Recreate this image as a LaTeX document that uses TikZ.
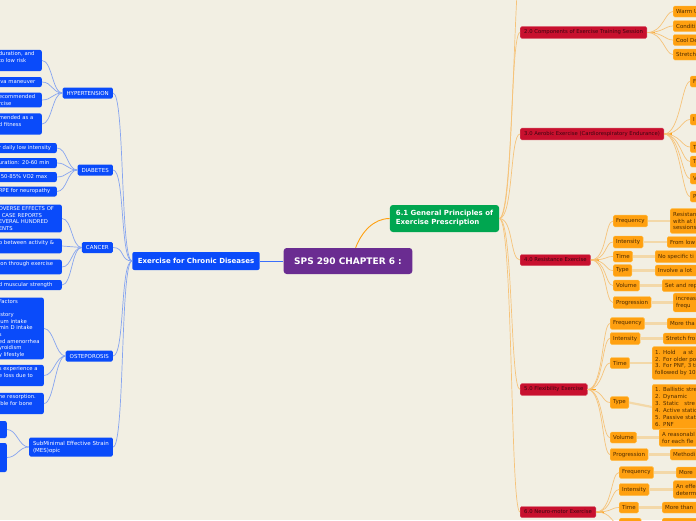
\documentclass[tikz,border=0pt]{standalone}
\usepackage{fontspec}
\setmainfont{DejaVu Sans}
\usepackage{tikz}

\definecolor{paper}{HTML}{F2EFE3}
\definecolor{mapblue}{HTML}{0A4BFA}
\definecolor{mappurple}{HTML}{6A2C91}
\definecolor{mapgreen}{HTML}{00A650}
\definecolor{mapred}{HTML}{C8102E}
\definecolor{maporange}{HTML}{FFA010}
\definecolor{orangeedge}{HTML}{FFC04D}
\definecolor{redtext}{HTML}{3A0610}
\definecolor{browntext}{HTML}{4D2B00}
\definecolor{blueline}{HTML}{86A4F0}
\definecolor{orangeline}{HTML}{F6C37A}
\definecolor{valueline}{HTML}{F3D8A8}

\tikzset{
    rootbox/.style={fill=mappurple, text=white, rounded corners=3pt,
        font=\fontsize{9}{11}\selectfont\bfseries, inner xsep=10.5pt, minimum height=26pt},
    chronicbox/.style={fill=mapblue, text=white, rounded corners=2pt,
        font=\fontsize{7}{9}\selectfont\bfseries, inner xsep=5.5pt, minimum height=18pt},
    greenbox/.style={fill=mapgreen, text=white, rounded corners=3pt, align=left,
        font=\fontsize{7}{9}\selectfont\bfseries, inner xsep=6pt, minimum height=27pt},
    branch/.style={fill=mapblue, text=white, rounded corners=1.5pt, anchor=east, align=left,
        font=\fontsize{5.5}{7}\selectfont, inner xsep=4pt, minimum height=11pt},
    blueleaf/.style={fill=mapblue, text=white, rounded corners=2pt, anchor=east, align=left,
        text width=#1, font=\fontsize{5.3}{6.6}\selectfont, inner xsep=2.5pt, inner ysep=2pt,
        minimum height=10pt},
    sub/.style={fill=mapred, draw=mapred!75!white, text=redtext, rounded corners=1.5pt,
        anchor=west, font=\fontsize{5.3}{6.6}\selectfont, inner xsep=4pt, minimum height=11pt},
    leaf/.style={fill=maporange, draw=orangeedge, text=browntext, rounded corners=1.5pt,
        anchor=west, font=\fontsize{5.5}{6.9}\selectfont, inner xsep=3pt, minimum height=11pt},
    val/.style={leaf, text width=70pt, align=left},
    bline/.style={draw=blueline, line width=0.7pt},
    rootline/.style={draw=mapblue!80, line width=0.9pt},
    greenline/.style={draw=maporange, line width=0.9pt},
    oline/.style={draw=orangeline, line width=0.7pt},
    ostub/.style={draw=maporange, line width=1.4pt},
    valline/.style={draw=valueline, line width=2.2pt}
}

\begin{document}
\begin{tikzpicture}[x=1pt,y=-1pt]
\useasboundingbox (0,0) rectangle (696,520);
\fill[paper] (0,0) rectangle (696,520);
\clip (0,0) rectangle (696,520);

% Nodi centrali
\node[rootbox] (root) at (348,261) {SPS 290 CHAPTER 6 :};
\node[chronicbox] (chronic) at (196,261) {Exercise for Chronic Diseases};
\node[greenbox] (gp) at (444.5,218.5) {6.1 General Principles of\\Exercise Prescription};

% Rami a sinistra
\node[branch] (hyp) at (113,93) {HYPERTENSION};
\node[branch] (dia) at (113,170) {DIABETES};
\node[branch] (can) at (113,247.5) {CANCER};
\node[branch] (ost) at (113,356) {OSTEPOROSIS};
\node[branch] (mes) at (113,447) {SubMinimal Effective Strain\\(MES)opic};

\node[blueleaf=40.5pt] (h1) at (42,60.5) {duration, and\\to low risk\\\mbox{}};
\node[blueleaf=40.5pt] (h2) at (42,82) {lva maneuver};
\node[blueleaf=40.5pt] (h3) at (42,100) {ecommended\\rcise};
\node[blueleaf=40.5pt] (h4) at (42,124) {mended as a\\d fitness\\\mbox{}};

\node[blueleaf=55.5pt] (d1) at (57,148) {r daily low intensity};
\node[blueleaf=55.5pt] (d2) at (57,163) {uration: 20-60 min};
\node[blueleaf=55.5pt] (d3) at (57,177) {\hspace*{2pt}50-85\% VO2 max};
\node[blueleaf=55.5pt] (d4) at (57,191.5) {RPE for neuropathy};

\node[blueleaf=60.5pt] (k1) at (62,218.5) {DVERSE EFFECTS OF\\\hspace*{3pt}CASE REPORTS\\EVERAL HUNDRED\\ENTS};
\node[blueleaf=60.5pt] (k2) at (62,246) {p between activity \&\\\mbox{}};
\node[blueleaf=60.5pt] (k3) at (62,267) {ion through exercise\\\mbox{}};
\node[blueleaf=60.5pt] (k4) at (62,285) {d muscular strength};

\node[blueleaf=42.5pt] (o1) at (44,328.5) {Factors\\l\\istory\\ium intake\\min D intake\\s\\ed amenorrhea\\yroidism\\y lifestyle};
\node[blueleaf=42.5pt] (o2) at (44,375.5) {s experience a\\e loss due to\\\mbox{}};
\node[blueleaf=42.5pt] (o3) at (44,403.5) {ne resorption.\\ible for bone\\\mbox{}};

\node[blueleaf=5pt, minimum height=17pt] (m1) at (7,429.5) {};
\node[blueleaf=5pt, minimum height=29pt] (m2) at (7,457.5) {};

% Rami a destra
\coordinate (c10) at (520,-30);
\node[sub] (c20) at (520,32.5) {2.0 Components of Exercise Training Session};
\node[sub] (c30) at (520,134) {3.0 Aerobic Exercise (Cardiorespiratory Endurance)};
\node[sub] (c40) at (520,260) {4.0 Resistance Exercise};
\node[sub] (c50) at (520,389.5) {5.0 Flexibility Exercise};
\node[sub] (c60) at (520,512) {6.0 Neuro-motor Exercise};

\node[val] (w1) at (673,11.5) {Warm U};
\node[val] (w2) at (673,26) {Conditi};
\node[val] (w3) at (673,40) {Cool De};
\node[val] (w4) at (673,54.5) {Stretch};

\node[val] (a1) at (690,81.5) {F};
\node[val] (a2) at (690,119.5) {I};
\node[val] (a3) at (690,147) {T};
\node[val] (a4) at (690,161.5) {T};
\node[val] (a5) at (690,178.5) {V};
\node[val] (a6) at (690,196.5) {P};

\node[leaf] (r1) at (613,221) {Frequency};
\node[leaf] (r2) at (613,242) {Intensity};
\node[leaf] (r3) at (613,256.5) {Time};
\node[leaf] (r4) at (613,270.5) {Type};
\node[leaf] (r5) at (613,285.5) {Volume};
\node[leaf] (r6) at (613,302.5) {Progression};
\node[val] (vr1) at (670,221) {Resistan\\with at l\\sessions};
\node[val] (vr2) at (667,242) {From low};
\node[val] (vr3) at (655,256.5) {No specific ti};
\node[val] (vr4) at (655,270.5) {Involve a lot};
\node[val] (vr5) at (662,285.5) {Set and rep};
\node[val] (vr6) at (673,302.5) {increas\\frequ};

\node[leaf] (f1) at (610,323.5) {Frequency};
\node[leaf] (f2) at (610,338.5) {Intensity};
\node[leaf] (f3) at (610,363) {Time};
\node[leaf] (f4) at (610,402.5) {Type};
\node[leaf] (f5) at (610,437.5) {Volume};
\node[leaf] (f6) at (610,454.5) {Progression};
\node[val] (vf1) at (667,323.5) {More tha};
\node[val] (vf2) at (663,338.5) {Stretch fro};
\node[val] (vf3) at (652,363) {1. Hold\quad\ a st\\2. For older po\\3. For PNF, 3 ti\\followed by 10};
\node[val] (vf4) at (652,407) {1. Ballistic stre\\2. Dynamic\\3. Static\quad stre\\4. Active static\\5. Passive stati\\6. PNF};
\node[val] (vf5) at (659,437.5) {A reasonabl\\for each fle};
\node[val] (vf6) at (670,454.5) {Methodi};

\node[leaf] (n1) at (619,472.5) {Frequency};
\node[leaf] (n2) at (619,489.5) {Intensity};
\node[leaf] (n3) at (619,507.5) {Time};
\node[leaf, anchor=north west, minimum width=22pt] (n4) at (619,518) {};
\node[val] (vn1) at (676,472.5) {More};
\node[val] (vn2) at (673,489.5) {An effe\\determ};
\node[val] (vn3) at (662,507.5) {More than};
\node[val, anchor=north west] (vn4) at (662,518) {};

% Collegamenti a sinistra
\draw[rootline] (root.west) -- (chronic.east);
\foreach \b in {hyp,dia,can,ost,mes}
    \draw[bline] (chronic.west) .. controls +(-12,0) and +(12,0) .. (\b.east);
\foreach \l in {h1,h2,h3,h4}
    \draw[bline] (hyp.west) .. controls +(-10,0) and +(10,0) .. (\l.east);
\foreach \l in {d1,d2,d3,d4}
    \draw[bline] (dia.west) .. controls +(-10,0) and +(10,0) .. (\l.east);
\foreach \l in {k1,k2,k3,k4}
    \draw[bline] (can.west) .. controls +(-10,0) and +(10,0) .. (\l.east);
\foreach \l in {o1,o2,o3}
    \draw[bline] (ost.west) .. controls +(-10,0) and +(10,0) .. (\l.east);
\foreach \l in {m1,m2}
    \draw[bline] (mes.west) .. controls +(-10,0) and +(10,0) .. (\l.east);

% Collegamenti a destra
\draw[greenline] (root.60) .. controls +(6,-16) and +(-16,0) .. (gp.west);
\draw[oline] (gp.east) .. controls +(14,0) and +(-6,0) .. (c10);
\foreach \c in {c20,c30,c40,c50,c60}
    \draw[oline] (gp.east) .. controls +(14,0) and +(-10,0) .. (\c.west);

\foreach \c in {c20,c30,c40,c50,c60}
    \draw[ostub] (\c.east) -- +(8,0);
\foreach \w in {w1,w2,w3,w4}
    \draw[oline] (c20.east) .. controls +(16,0) and +(-8,0) .. (\w.west);
\foreach \a in {a1,a2,a3,a4,a5,a6}
    \draw[oline] (c30.east) .. controls +(16,0) and +(-8,0) .. (\a.west);
\foreach \r in {r1,r2,r3,r4,r5,r6}
{
    \draw[oline] (c40.east) .. controls +(16,0) and +(-8,0) .. (\r.west);
    \draw[valline] (\r.east) -- (v\r.west);
}
\foreach \r in {f1,f2,f3,f4,f5,f6}
{
    \draw[oline] (c50.east) .. controls +(16,0) and +(-8,0) .. (\r.west);
    \draw[valline] (\r.east) -- (v\r.west);
}
\foreach \r in {n1,n2,n3,n4}
{
    \draw[oline] (c60.east) .. controls +(16,0) and +(-8,0) .. (\r.west);
    \draw[valline] (\r.east) -- (v\r.west);
}
\end{tikzpicture}
\end{document}
